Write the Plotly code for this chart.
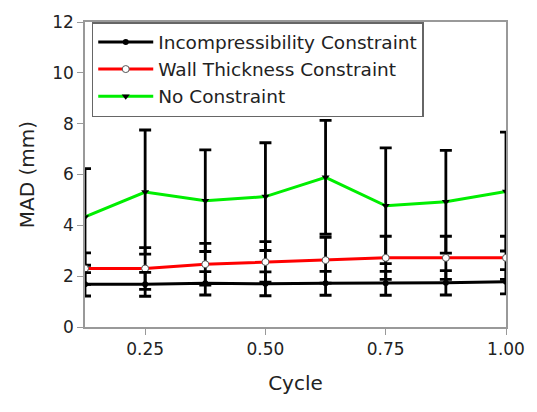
import plotly.graph_objects as go

cycle = [0.125, 0.25, 0.375, 0.5, 0.625, 0.75, 0.875, 1.0]

incomp = [1.68, 1.68, 1.72, 1.70, 1.72, 1.72, 1.74, 1.78]
incomp_err = [0.46, 0.47, 0.46, 0.47, 0.47, 0.47, 0.48, 0.48]

wall = [2.30, 2.30, 2.47, 2.56, 2.63, 2.72, 2.72, 2.72]
wall_err = [0.62, 0.82, 0.82, 0.80, 0.90, 0.85, 0.85, 0.85]

nocon = [4.33, 5.31, 4.97, 5.13, 5.89, 4.77, 4.93, 5.33]
nocon_err = [1.90, 2.44, 2.00, 2.12, 2.24, 2.28, 2.02, 2.34]

yticks = [0, 2, 4, 6, 8, 10, 12]
xticks = [0.25, 0.50, 0.75, 1.00]

FONT = "DejaVu Sans, Liberation Sans, Arial, sans-serif"

def err(vals):
    return dict(type="data", array=vals, visible=True, color="black",
                thickness=2.8, width=6)

fig = go.Figure()
fig.add_trace(go.Scatter(
    x=cycle, y=nocon, name="No Constraint", mode="lines+markers",
    line=dict(color="#00ee00", width=3),
    marker=dict(symbol="triangle-down", size=7, color="black"),
    error_y=err(nocon_err)))
fig.add_trace(go.Scatter(
    x=cycle, y=wall, name="Wall Thickness Constraint", mode="lines+markers",
    line=dict(color="#ff0000", width=3),
    marker=dict(symbol="circle", size=7, color="white",
                line=dict(color="#555555", width=1)),
    error_y=err(wall_err)))
fig.add_trace(go.Scatter(
    x=cycle, y=incomp, name="Incompressibility Constraint", mode="lines+markers",
    line=dict(color="black", width=3),
    marker=dict(symbol="circle", size=6, color="black"),
    error_y=err(incomp_err)))

fig.update_layout(
    width=537, height=412,
    margin=dict(l=85, r=22, t=19, b=85),
    paper_bgcolor="white", plot_bgcolor="white",
    font=dict(family=FONT, color="#222222", size=17),
    showlegend=True,
    legend=dict(x=0.016, y=1.0, xanchor="left", yanchor="top",
                traceorder="reversed", itemwidth=55,
                bgcolor="white", bordercolor="#666666", borderwidth=1.5,
                font=dict(size=18.5, family=FONT, color="#222222"),
                tracegroupgap=0),
    xaxis=dict(range=[0.125, 1.0], tickvals=xticks, tickformat=".2f",
               showgrid=False, zeroline=False,
               showline=True, linecolor="#999999", linewidth=1.5, mirror=True,
               ticks="outside", ticklen=6, tickcolor="#999999",
               tickfont=dict(size=17),
               title=dict(text="Cycle", font=dict(size=20), standoff=18)),
    yaxis=dict(range=[0, 12], tickvals=yticks,
               showgrid=False, zeroline=False,
               showline=True, linecolor="#999999", linewidth=1.5, mirror=True,
               ticks="outside", ticklen=6, tickcolor="#999999",
               tickfont=dict(size=17),
               title=dict(text="MAD (mm)", font=dict(size=20), standoff=12)),
)

fig.write_html("out.html")
